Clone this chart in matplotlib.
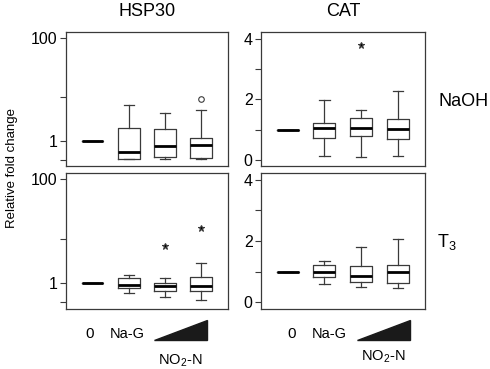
import matplotlib
matplotlib.use("Agg")
import matplotlib.pyplot as plt
from matplotlib.patches import Polygon
import matplotlib.transforms as mtransforms

plt.rcParams['font.family'] = ['Liberation Sans', 'DejaVu Sans']
plt.rcParams['mathtext.default'] = 'regular'

genes = ['HSP30', 'CAT']
treatments = ['NaOH', r'T$_3$']
groups = ['0', 'Na-G', 'NO2-N low', 'NO2-N high']

# (whislo, q1, med, q3, whishi, fliers)
hsp30_naoh = [(1, 1, 1, 1, 1, []),
              (0.45, 0.45, 0.61, 1.79, 5.07, []),
              (0.45, 0.49, 0.80, 1.71, 3.55, []),
              (0.45, 0.47, 0.84, 1.14, 4.0, [6.45])]
hsp30_t3 = [(1, 1, 1, 1, 1, []),
            (0.65, 0.81, 0.93, 1.23, 1.43, []),
            (0.54, 0.70, 0.90, 0.99, 1.25, [5.28]),
            (0.475, 0.70, 0.90, 1.34, 2.39, [11.6])]
cat_naoh = [(1, 1, 1, 1, 1, []),
            (0.14, 0.72, 1.04, 1.23, 1.98, []),
            (0.11, 0.78, 1.04, 1.38, 1.64, [3.80]),
            (0.13, 0.68, 1.01, 1.34, 2.28, [])]
cat_t3 = [(1, 1, 1, 1, 1, []),
          (0.59, 0.84, 0.98, 1.23, 1.36, []),
          (0.51, 0.66, 0.86, 1.18, 1.80, []),
          (0.46, 0.62, 0.99, 1.21, 2.06, [])]

log_ticks = [0.43, 1, 7.1, 100]
log_labels = ['', '1', '', '100']
lin_ticks = [0, 1, 2, 3, 4]
lin_labels = ['0', '', '2', '', '4']

fig = plt.figure(figsize=(4.9, 3.69), dpi=100)
W, H = 490, 369

def px_axes(l, t, r, b):
    return fig.add_axes([l / W, 1 - b / H, (r - l) / W, (b - t) / H])

axes = {
    (0, 0): px_axes(66, 32, 228, 166),
    (0, 1): px_axes(261, 32, 425, 166),
    (1, 0): px_axes(66, 173, 228, 308.5),
    (1, 1): px_axes(261, 173, 425, 308.5),
}
data = {(0, 0): hsp30_naoh, (1, 0): hsp30_t3, (0, 1): cat_naoh, (1, 1): cat_t3}

edge = '#3a3a3a'
for (r, c), ax in axes.items():
    stats = []
    for g, (lo, q1, med, q3, hi, fl) in zip(groups, data[(r, c)]):
        stats.append(dict(label=g, whislo=lo, q1=q1, med=med, q3=q3, whishi=hi, fliers=fl))
    marker = 'o' if (r, c) == (0, 0) else '*'
    ax.bxp(stats, positions=[1, 2, 3, 4], widths=0.6, capwidths=0.28,
           boxprops=dict(color=edge, linewidth=0.9),
           whiskerprops=dict(color=edge, linewidth=0.9),
           capprops=dict(color=edge, linewidth=0.9),
           medianprops=dict(color='black', linewidth=2.0),
           flierprops=dict(marker=marker, markersize=4 if marker == 'o' else 5,
                           markerfacecolor='none' if marker == 'o' else 'black',
                           markeredgecolor=edge, markeredgewidth=0.8))
    ax.set_xlim(0.27, 4.74)
    ax.set_xticks([])
    if c == 0:
        ax.set_yscale('log')
        ax.set_ylim(0.325, 132)
        ax.set_yticks(log_ticks)
        ax.set_yticklabels(log_labels)
        ax.minorticks_off()
    else:
        ax.set_ylim(-0.2, 4.22)
        ax.set_yticks(lin_ticks)
        ax.set_yticklabels(lin_labels)
    ax.tick_params(axis='y', direction='out', length=4, width=0.8, color=edge,
                   labelsize=11.5, pad=2)
    for s in ax.spines.values():
        s.set_color(edge)
        s.set_linewidth(0.9)

# column titles and row labels
fig.text(147 / W, 1 - 12 / H, genes[0], ha='center', va='center', fontsize=13)
fig.text(343 / W, 1 - 12 / H, genes[1], ha='center', va='center', fontsize=13)
fig.text(438 / W, 1 - 101 / H, treatments[0], ha='left', va='center', fontsize=13)
fig.text(437 / W, 1 - 242 / H, treatments[1], ha='left', va='center', fontsize=13)
fig.text(12 / W, 1 - 168 / H, 'Relative fold change', rotation=90,
         ha='center', va='center', fontsize=9.5)

# group labels under the bottom row
for c, shift in [(0, 0.0), (1, 0.17)]:
    ax = axes[(1, c)]
    trans = mtransforms.blended_transform_factory(ax.transData, ax.transAxes)
    ax.text(0.93 + shift, -0.19, '0', transform=trans, ha='center', va='center', fontsize=11)
    ax.text(1.95 + shift, -0.19, 'Na-G', transform=trans, ha='center', va='center', fontsize=10.5)
    tri = Polygon([(2.71 + shift, -0.232), (4.16 + shift, -0.232), (4.16 + shift, -0.088)],
                  closed=True, transform=trans, facecolor='#1a1a1a', edgecolor='#1a1a1a',
                  clip_on=False)
    ax.add_patch(tri)
    ax.text(3.43 + shift, -0.385 + 0.03 * c, r'NO$_2$-N', transform=trans, ha='center',
            va='center', fontsize=10.5)

fig.savefig('out.png', dpi=100)
